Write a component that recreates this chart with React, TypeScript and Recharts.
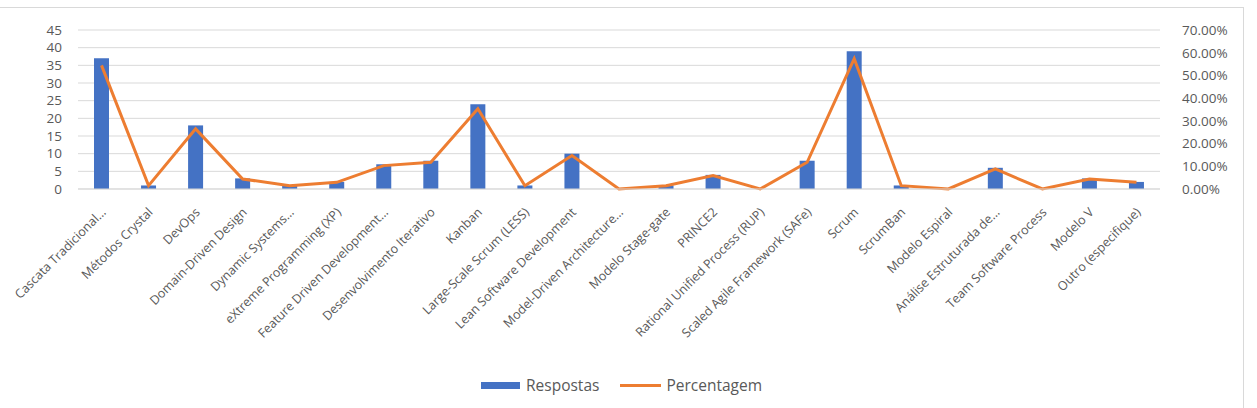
import { ComposedChart, Bar, Line, XAxis, YAxis, CartesianGrid, Legend } from "recharts";

const categories = [
  "Cascata Tradicional…",
  "Métodos Crystal",
  "DevOps",
  "Domain-Driven Design",
  "Dynamic Systems…",
  "eXtreme Programming (XP)",
  "Feature Driven Development…",
  "Desenvolvimento Iterativo",
  "Kanban",
  "Large-Scale Scrum (LESS)",
  "Lean Software Development",
  "Model-Driven Architecture…",
  "Modelo Stage-gate",
  "PRINCE2",
  "Rational Unified Process (RUP)",
  "Scaled Agile Framework (SAFe)",
  "Scrum",
  "ScrumBan",
  "Modelo Espiral",
  "Análise Estruturada de…",
  "Team Software Process",
  "Modelo V",
  "Outro (especifique)",
];

const respostas = [37, 1, 18, 3, 1, 2, 7, 8, 24, 1, 10, 0, 1, 4, 0, 8, 39, 1, 0, 6, 0, 3, 2];

const percentagem = [
  0.5441, 0.0147, 0.2647, 0.0441, 0.0147, 0.0294, 0.1029, 0.1176, 0.3529, 0.0147, 0.1471, 0,
  0.0147, 0.0588, 0, 0.1176, 0.5735, 0.0147, 0, 0.0882, 0, 0.0441, 0.0294,
];

const leftTicks = [0, 5, 10, 15, 20, 25, 30, 35, 40, 45];
const rightTicks = [0, 0.1, 0.2, 0.3, 0.4, 0.5, 0.6, 0.7];

const data = categories.map((name, i) => ({
  name,
  respostas: respostas[i],
  percentagem: percentagem[i],
}));

const FONT = "'Open Sans', sans-serif";
const TEXT = "#595959";

function AngledTick(props: any) {
  const { x, y, payload } = props;
  const ax = x + 5;
  const ay = y + 16;
  return (
    <text
      x={ax}
      y={ay}
      transform={`rotate(-45, ${ax}, ${ay})`}
      textAnchor="end"
      fill={TEXT}
      fontSize={12.5}
      fontFamily={FONT}
    >
      {payload.value}
    </text>
  );
}

function LegendBox() {
  return (
    <div
      style={{
        display: "flex",
        justifyContent: "center",
        alignItems: "center",
        gap: 21,
        fontFamily: FONT,
        fontSize: 15.5,
        color: TEXT,
        height: 20,
        paddingRight: 14,
      }}
    >
      <span style={{ display: "flex", alignItems: "center" }}>
        <span style={{ width: 39, height: 7, background: "#4472C4", marginRight: 6 }} />
        Respostas
      </span>
      <span style={{ display: "flex", alignItems: "center" }}>
        <span style={{ width: 41, height: 3, background: "#ED7D31", marginRight: 5 }} />
        Percentagem
      </span>
    </div>
  );
}

export default function App() {
  return (
    <div
      style={{
        position: "absolute",
        left: 0,
        top: 0,
        width: 1257,
        height: 408,
        background: "#fff",
        overflow: "hidden",
      }}
    >
      <div
        style={{
          position: "absolute",
          left: -1,
          top: 7,
          width: 1243,
          height: 420,
          border: "1px solid #D9D9D9",
        }}
      />
      <div style={{ position: "absolute", left: 0, top: 0 }}>
        <ComposedChart
          width={1257}
          height={408}
          data={data}
          margin={{ top: 30, right: 0, bottom: 13, left: 0 }}
        >
          <CartesianGrid vertical={false} stroke="#D9D9D9" yAxisId="left" />
          <XAxis
            dataKey="name"
            interval={0}
            height={186}
            tick={<AngledTick />}
            tickLine={false}
            axisLine={{ stroke: "#D9D9D9" }}
          />
          <YAxis
            yAxisId="left"
            orientation="left"
            width={78}
            domain={[0, 45]}
            ticks={leftTicks}
            interval={0}
            tickLine={false}
            axisLine={false}
            tickMargin={10}
            tick={{ fill: TEXT, fontSize: 13.5, fontFamily: FONT }}
          />
          <YAxis
            yAxisId="right"
            orientation="right"
            width={97}
            domain={[0, 0.7]}
            ticks={rightTicks}
            interval={0}
            tickLine={false}
            axisLine={false}
            tickMargin={16}
            tickFormatter={(v: number) => `${(v * 100).toFixed(2)}%`}
            tick={{ fill: TEXT, fontSize: 13.5, fontFamily: FONT, textAnchor: "start" }}
          />
          <Bar
            yAxisId="left"
            dataKey="respostas"
            name="Respostas"
            fill="#4472C4"
            barSize={15}
            isAnimationActive={false}
          />
          <Line
            yAxisId="right"
            dataKey="percentagem"
            name="Percentagem"
            type="linear"
            stroke="#ED7D31"
            strokeWidth={3}
            dot={false}
            isAnimationActive={false}
          />
          <Legend verticalAlign="bottom" height={20} content={<LegendBox />} />
        </ComposedChart>
      </div>
    </div>
  );
}
